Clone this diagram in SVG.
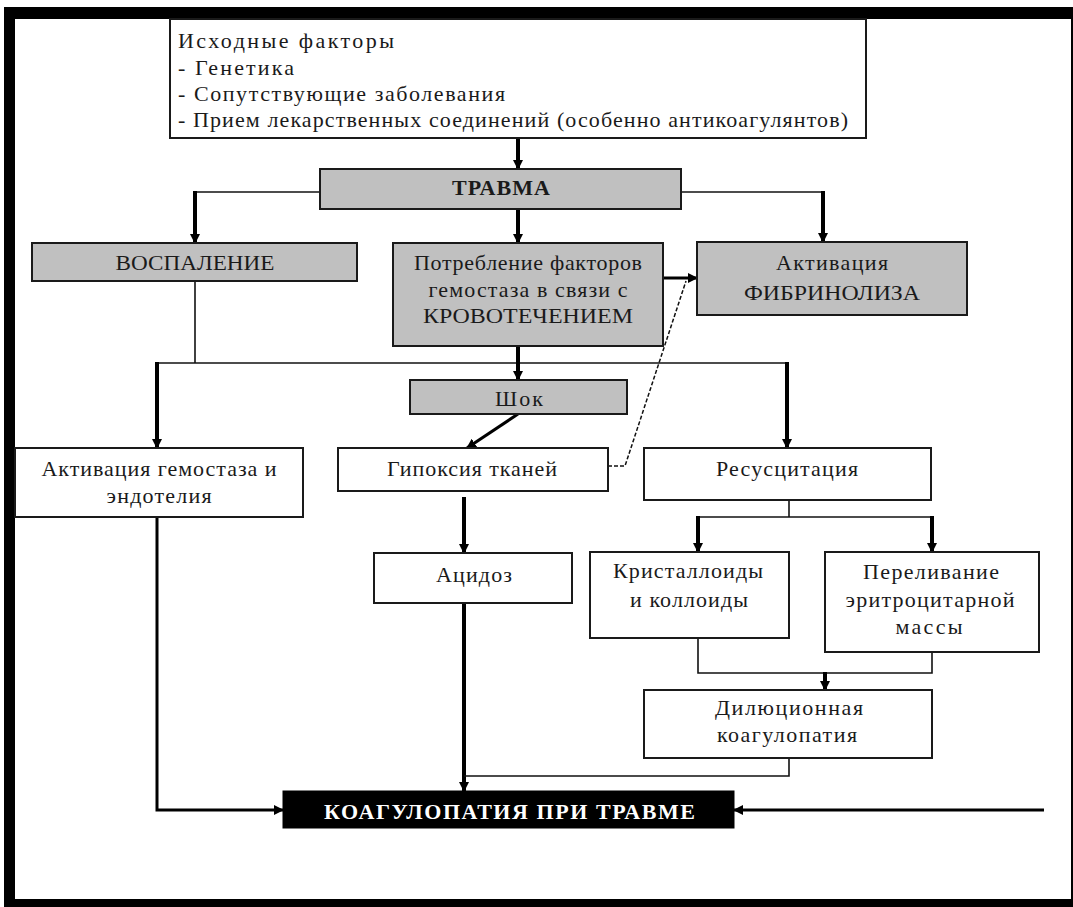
<svg xmlns="http://www.w3.org/2000/svg" width="1073" height="907" viewBox="0 0 1073 907">
<defs>
<marker id="ah" markerUnits="userSpaceOnUse" markerWidth="11" markerHeight="11" refX="9" refY="5" orient="auto">
<path d="M0,0 L10,5 L0,10 z" fill="#000"/>
</marker>
<style>
.box{fill:#fff;stroke:#1a1a1a;stroke-width:2}
.gray{fill:#c0c0c0;stroke:#1a1a1a;stroke-width:2}
.dark{fill:#000;stroke:#000;stroke-width:1}
text{font-family:"Liberation Serif","Times New Roman",serif;font-size:22px;fill:#1a1a1a}
.c{text-anchor:middle}
.b{font-weight:bold}
.w{fill:#fff}
.thick{fill:none;stroke:#000;stroke-width:4}
.med{fill:none;stroke:#000;stroke-width:3}
.thin{fill:none;stroke:#111;stroke-width:1.6}
.dash{fill:none;stroke:#111;stroke-width:1.5;stroke-dasharray:4 2}
</style>
</defs>
<rect x="4" y="7" width="1069" height="900" fill="#000"/>
<rect x="15" y="19" width="1056" height="880" fill="#fff"/>

<g id="connectors">
<path class="thick" d="M518,138 V169" marker-end="url(#ah)"/>
<path class="thin" d="M320,192 H195"/>
<path class="thick" d="M195,191 V243" marker-end="url(#ah)"/>
<path class="thick" d="M518,209 V243" marker-end="url(#ah)"/>
<path class="thin" d="M681,192 H823"/>
<path class="thick" d="M823,191 V242" marker-end="url(#ah)"/>
<path class="med" d="M663,278 H697" marker-end="url(#ah)"/>
<path class="dash" d="M608,466 H625 L686,281"/>
<path class="thin" d="M195,281 V363"/>
<path class="thin" d="M157,363 H787"/>
<path class="thick" d="M157,362 V448" marker-end="url(#ah)"/>
<path class="thick" d="M787,362 V448" marker-end="url(#ah)"/>
<path class="thick" d="M518,346 V380" marker-end="url(#ah)"/>
<path class="med" d="M518,414 L467,448" marker-end="url(#ah)"/>
<path class="thick" d="M464,497 V553" marker-end="url(#ah)"/>
<path class="thick" d="M464,603 V791" marker-end="url(#ah)"/>
<path class="thin" d="M789,758 V776 H464"/>
<path class="thin" d="M789,500 V517"/>
<path class="thin" d="M698,517 H932"/>
<path class="thick" d="M698,516 V552" marker-end="url(#ah)"/>
<path class="thick" d="M932,516 V552" marker-end="url(#ah)"/>
<path class="thin" d="M698,638 V673 H932 V652"/>
<path class="thick" d="M825,672 V690" marker-end="url(#ah)"/>
<path class="med" d="M157,517 V810 H283" marker-end="url(#ah)"/>
<path class="med" d="M1044,810 H734" marker-end="url(#ah)"/>
</g>

<g id="node-initial">
<rect class="box" x="170" y="19" width="696" height="119"/>
<text x="178" y="48" textLength="216" lengthAdjust="spacing">Исходные факторы</text>
<text x="178" y="75" textLength="116" lengthAdjust="spacing">- Генетика</text>
<text x="178" y="101" textLength="327" lengthAdjust="spacing">- Сопутствующие заболевания</text>
<text x="178" y="127" textLength="670" lengthAdjust="spacing">- Прием лекарственных соединений (особенно антикоагулянтов)</text>
</g>

<g id="node-trauma">
<rect class="gray" x="320" y="169" width="361" height="40"/>
<text class="c b" x="501" y="195" textLength="98" lengthAdjust="spacing">ТРАВМА</text>
</g>

<g id="node-inflammation">
<rect class="gray" x="32" y="243" width="325" height="38"/>
<text class="c" x="195" y="270" textLength="159" lengthAdjust="spacingAndGlyphs">ВОСПАЛЕНИЕ</text>
</g>

<g id="node-consumption">
<rect class="gray" x="393" y="243" width="270" height="103"/>
<text class="c" x="528" y="270" textLength="228" lengthAdjust="spacing">Потребление факторов</text>
<text class="c" x="528" y="297" textLength="199" lengthAdjust="spacing">гемостаза в связи с</text>
<text class="c" x="528" y="323" font-size="23" textLength="210" lengthAdjust="spacingAndGlyphs">КРОВОТЕЧЕНИЕМ</text>
</g>

<g id="node-fibrinolysis">
<rect class="gray" x="697" y="242" width="270" height="73"/>
<text class="c" x="832" y="270" textLength="112" lengthAdjust="spacing">Активация</text>
<text class="c" x="832" y="300" font-size="23" textLength="176" lengthAdjust="spacingAndGlyphs">ФИБРИНОЛИЗА</text>
</g>

<g id="node-shock">
<rect class="gray" x="410" y="380" width="217" height="34"/>
<text class="c" x="519" y="406" textLength="48" lengthAdjust="spacing">Шок</text>
</g>

<g id="node-activation">
<rect class="box" x="15" y="448" width="288" height="69"/>
<text class="c" x="159" y="476" textLength="235" lengthAdjust="spacing">Активация гемостаза и</text>
<text class="c" x="159" y="503" textLength="105" lengthAdjust="spacing">эндотелия</text>
</g>

<g id="node-hypoxia">
<rect class="box" x="338" y="448" width="270" height="43"/>
<text class="c" x="472" y="476" textLength="170" lengthAdjust="spacing">Гипоксия тканей</text>
</g>

<g id="node-resuscitation">
<rect class="box" x="644" y="448" width="287" height="52"/>
<text class="c" x="787" y="476" textLength="142" lengthAdjust="spacing">Ресусцитация</text>
</g>

<g id="node-acidosis">
<rect class="box" x="374" y="553" width="198" height="50"/>
<text class="c" x="474" y="582" textLength="76" lengthAdjust="spacing">Ацидоз</text>
</g>

<g id="node-crystalloids">
<rect class="box" x="590" y="552" width="199" height="86"/>
<text class="c" x="688" y="578" textLength="150" lengthAdjust="spacing">Кристаллоиды</text>
<text class="c" x="689" y="607" textLength="118" lengthAdjust="spacing">и коллоиды</text>
</g>

<g id="node-transfusion">
<rect class="box" x="825" y="552" width="214" height="100"/>
<text class="c" x="931" y="579" textLength="136" lengthAdjust="spacing">Переливание</text>
<text class="c" x="930" y="607" textLength="169" lengthAdjust="spacing">эритроцитарной</text>
<text class="c" x="929" y="634" textLength="67" lengthAdjust="spacing">массы</text>
</g>

<g id="node-dilution">
<rect class="box" x="644" y="690" width="288" height="68"/>
<text class="c" x="789" y="715" textLength="148" lengthAdjust="spacing">Дилюционная</text>
<text class="c" x="787" y="742" textLength="140" lengthAdjust="spacing">коагулопатия</text>
</g>

<g id="node-coagulopathy">
<rect class="dark" x="283" y="791" width="451" height="37"/>
<text class="b w" x="324" y="819" font-size="24" textLength="371" lengthAdjust="spacing">КОАГУЛОПАТИЯ  ПРИ ТРАВМЕ</text>
</g>
</svg>
